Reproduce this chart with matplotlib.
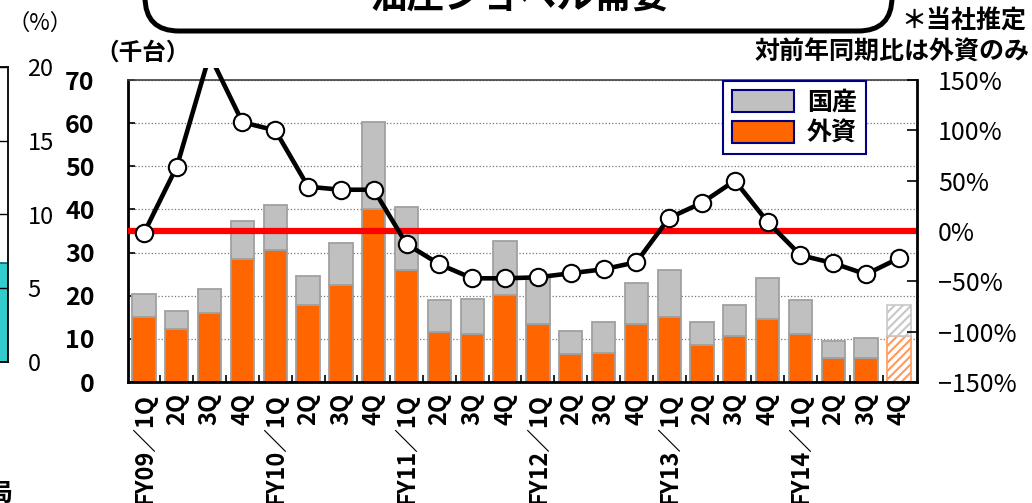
import numpy as np
import matplotlib
matplotlib.use("Agg")
import matplotlib.pyplot as plt
from matplotlib.patches import FancyBboxPatch, Patch, Rectangle
from matplotlib.transforms import Affine2D

plt.rcParams['font.family'] = ['Noto Sans CJK JP', 'DejaVu Sans']
plt.rcParams['hatch.linewidth'] = 1.5

# quarterly demand (thousand units) and year-on-year change of overseas (%)
quarters = ["FY09／1Q", "2Q", "3Q", "4Q", "FY10／1Q", "2Q", "3Q", "4Q",
            "FY11／1Q", "2Q", "3Q", "4Q", "FY12／1Q", "2Q", "3Q", "4Q",
            "FY13／1Q", "2Q", "3Q", "4Q", "FY14／1Q", "2Q", "3Q", "4Q"]
foreign = [15.1, 12.2, 16.0, 28.4, 30.6, 17.8, 22.4, 40.2,
           25.9, 11.6, 11.2, 20.1, 13.4, 6.4, 6.8, 13.4,
           15.1, 8.5, 10.6, 14.7, 11.2, 5.6, 5.6, 10.6]
domestic = [5.2, 4.3, 5.5, 8.9, 10.4, 6.7, 9.9, 20.0,
            14.7, 7.4, 8.1, 12.6, 11.0, 5.5, 7.2, 9.6,
            10.9, 5.5, 7.2, 9.3, 7.8, 3.9, 4.7, 7.2]
yoy = [-2, 64, 175, 108, 100, 44, 41, 41,
       -13, -33, -47, -47, -46, -42, -38, -31,
       13, 28, 50, 9, -24, -32, -43, -27]
left_ticks = [0, 10, 20, 30, 40, 50, 60, 70]
right_ticks = [-150, -100, -50, 0, 50, 100, 150]

# neighbouring chart cut off at the left edge
side_value = 6.7
side_ticks = [0, 5, 10, 15, 20]

W, H = 1032, 503
fig = plt.figure(figsize=(W / 100, H / 100), dpi=100)
px = Affine2D().scale(1 / W, -1 / H).translate(0, 1) + fig.transFigure


def box(l, t, r, b):
    return [l / W, 1 - b / H, (r - l) / W, (b - t) / H]


# ---- left fragment ----
ax0 = fig.add_axes(box(-40, 67, 8, 362))
ax0.bar([0.79], [side_value], 0.4, color='#33CCCC', edgecolor='#006666', lw=1.2, zorder=1)
ax0.set_xlim(0, 1)
ax0.set_ylim(0, 20)
ax0.set_yticks(side_ticks)
ax0.yaxis.tick_right()
ax0.tick_params(axis='y', length=0, pad=14, labelsize=17)
for t in ax0.get_yticklabels():
    t.set_horizontalalignment('left')
ax0.set_xticks([])
ax0.yaxis.grid(True, color='black', lw=1)
for s in ['top', 'bottom', 'right']:
    ax0.spines[s].set_linewidth(1.3)
ax0.spines['left'].set_visible(False)

# ---- main chart ----
ax = fig.add_axes(box(128, 80, 917, 382))
x = np.arange(len(quarters))
bw = 0.71
ax.bar(x[:-1], foreign[:-1], bw, color='#FF6600', edgecolor='#A0A0A0', lw=1.3, zorder=2)
ax.bar(x[:-1], domestic[:-1], bw, bottom=foreign[:-1], color='#C0C0C0',
       edgecolor='#A0A0A0', lw=1.3, zorder=2)
# estimate (hatched)
ax.bar(x[-1:], foreign[-1:], bw, color='white', edgecolor='#FF9A5C', hatch='////', lw=1.2, zorder=2)
ax.bar(x[-1:], domestic[-1:], bw, bottom=foreign[-1:], color='white',
       edgecolor='#C8C8C8', hatch='////', lw=1.2, zorder=2)

ax.set_xlim(-0.487, 23.55)
ax.set_ylim(0, 70)
ax.set_yticks(left_ticks)
ax.set_axisbelow(True)
ax.yaxis.grid(True, ls=':', color='#777777', lw=0.9)
ax.set_xticks(x)
ax.set_xticklabels(quarters, rotation=90, fontsize=17, fontweight='bold')
ax.set_xticks(x[:-1] + 0.5, minor=True)
ax.tick_params(axis='x', which='major', length=0, pad=8)
ax.tick_params(axis='x', which='minor', direction='in', length=5, width=1.2)
ax.tick_params(axis='y', direction='in', length=5, width=1.2, pad=24, labelsize=18)
for t in ax.get_yticklabels():
    t.set_fontweight('bold')
ax.spines['left'].set_linewidth(2)
ax.spines['bottom'].set_linewidth(2)
ax.spines['top'].set_linewidth(1.2)
ax.spines['top'].set_color('#404040')
ax.spines['right'].set_visible(False)

ax2 = ax.twinx()
ax2.set_ylim(-150, 150)
ax2.set_yticks(right_ticks)
ax2.set_yticklabels([f"{v}%".replace('-', '−') for v in right_ticks])
ax2.tick_params(axis='y', direction='in', length=7, width=1.2, pad=15, labelsize=18)
for s in ['top', 'left', 'bottom']:
    ax2.spines[s].set_visible(False)
ax2.spines['right'].set_linewidth(2)
ax2.axhline(0, color='#FF0000', lw=4.5, zorder=2)
line, = ax2.plot(x, yoy, color='black', lw=3.3, marker='o', ms=12.5,
                 mfc='white', mec='black', mew=1.5, zorder=3)
line.set_clip_path(Rectangle((0, 68), W, H, transform=px))

handles = [Patch(facecolor='#C0C0C0', edgecolor='#000080', lw=1.5, label='国産'),
           Patch(facecolor='#FF6600', edgecolor='#000080', lw=1.5, label='外資')]
leg = ax2.legend(handles=handles, loc='upper left', bbox_to_anchor=(723 / W, 1 - 81 / H),
                 bbox_transform=fig.transFigure, fancybox=False, framealpha=1,
                 edgecolor='#000080', borderpad=0.35, borderaxespad=0,
                 handlelength=2.5, handleheight=1.0, handletextpad=0.5,
                 labelspacing=0.25, prop=dict(size=18, weight='bold'))
leg.get_frame().set_linewidth(1.5)

# ---- title box and notes ----
fig.patches.append(FancyBboxPatch((145, -80), 747, 111, boxstyle="round,pad=0,rounding_size=34",
                                  transform=px, facecolor='white', edgecolor='black', lw=3.6))
fig.text(520, -3, "油圧ショベル需要", transform=px, ha='center', va='center',
         fontsize=27, fontweight='bold')
fig.text(40, 23, "（%）", transform=px, ha='center', va='center', fontsize=16)
fig.text(143, 53, "（千台）", transform=px, ha='center', va='center', fontsize=17, fontweight='bold')
fig.text(1026, 22, "＊当社推定", transform=px, ha='right', va='center', fontsize=18, fontweight='bold')
fig.text(1030, 53, "対前年同期比は外資のみ", transform=px, ha='right', va='center',
         fontsize=18, fontweight='bold')
fig.text(-12, 494, "局", transform=px, ha='left', va='center', fontsize=18, fontweight='bold')

fig.savefig("out.png", dpi=100)
